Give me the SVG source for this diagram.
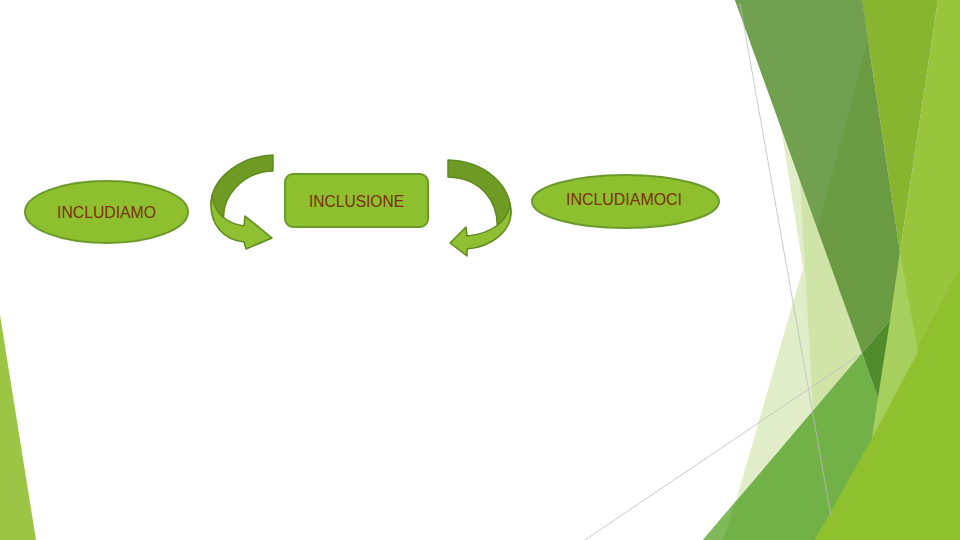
<svg xmlns="http://www.w3.org/2000/svg" width="960" height="540" viewBox="0 0 960 540">
<style>
.node{fill:#8dbf2e;stroke:#6a9a2a;stroke-width:2}
.lbl{font-family:"Liberation Sans",Arial,sans-serif;font-size:16px;fill:#7b3008;text-anchor:middle}
.arrDark{fill:#6f9b25;stroke:#5e8a1e;stroke-width:1.5;stroke-linejoin:round}
.arrLight{fill:#8fc031;stroke:#5e8a1e;stroke-width:1.5;stroke-linejoin:round}
.thin{stroke:#bdbdbd;stroke-width:0.8;fill:none}
</style>
<rect width="960" height="540" fill="#ffffff"/>
<g id="background">
<polygon points="0,315 0,540 36,540" fill="#9dc545"/>
<polygon points="938,0 960,0 960,540 815,540 872,438 878,398 900,252" fill="#98c53c"/>
<polygon points="960,268 960,540 815,540" fill="#8fc12f"/>
<polygon points="900,252 918,352 872,438 878,398" fill="#a7cf5e"/>
<polygon points="862,0 938,0 900,252" fill="#87b52f"/>
<polygon points="781,127 803,268 736,501 862,353" fill="#e0edc8"/>
<polygon points="800,180 813,410 862,353" fill="#d0e4a8"/>
<polygon points="703,540 862,353 878,398 872,438 815,540" fill="#72b048"/>
<polygon points="703,540 736,501 723,540" fill="#80b95a"/>
<polygon points="735,0 862,0 900,252 890,320 862,353" fill="#6a9a42"/>
<polygon points="735,0 862,0 868,40 818,228" fill="#71a050"/>
<polygon points="862,353 890,320 878,398" fill="#508c2c"/>
<line class="thin" x1="740" y1="4" x2="831" y2="516"/>
<line class="thin" x1="585" y1="540" x2="862" y2="353"/>
</g>
<g id="connectors">
<g id="arrow-1">
<path class="arrDark" d="M273,155 C242,156 211,177 211,205 L224,224 C220,197 242,172 273,171 Z"/>
<path class="arrLight" d="M212,195 C214,213 226,223 244,226 L245,216 L272,238 L246,249 L244,242 C224,240 210,225 211,203 Z"/>
</g>
<g id="arrow-2">
<path class="arrDark" d="M448,160 C485,161 511,185 511,213 L497,233 C500,200 480,178 448,177 Z"/>
<path class="arrLight" d="M510,204 C508,222 490,234 467,236 L466,227 L450,243 L467,256 L467,249 C492,247 511,231 511,212 Z"/>
</g>
</g>
<g id="node-includiamo">
<ellipse class="node" cx="106.5" cy="212" rx="81.5" ry="31"/>
<text class="lbl" x="106.5" y="218" textLength="99" lengthAdjust="spacingAndGlyphs">INCLUDIAMO</text>
</g>
<g id="node-inclusione">
<rect class="node" x="285" y="174" width="143" height="53" rx="8"/>
<text class="lbl" x="356.5" y="207" textLength="95" lengthAdjust="spacingAndGlyphs">INCLUSIONE</text>
</g>
<g id="node-includiamoci">
<ellipse class="node" cx="625.5" cy="201.5" rx="93.5" ry="26.5"/>
<text class="lbl" x="624" y="205" textLength="116" lengthAdjust="spacingAndGlyphs">INCLUDIAMOCI</text>
</g>
</svg>
